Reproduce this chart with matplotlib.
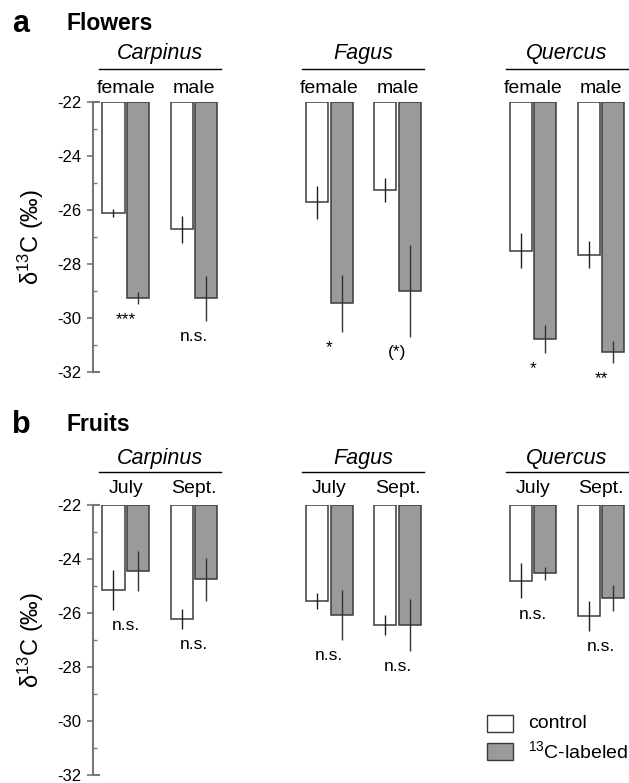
import matplotlib
matplotlib.use('Agg')
import matplotlib.pyplot as plt
import matplotlib.transforms as mtransforms
from matplotlib.patches import Rectangle
import numpy as np

plt.rcParams['font.family'] = ['Liberation Sans', 'DejaVu Sans']
plt.rcParams['mathtext.fontset'] = 'custom'
plt.rcParams['mathtext.rm'] = 'Liberation Sans'
plt.rcParams['mathtext.it'] = 'Liberation Sans:italic'

# data (delta 13C, permil)
genera = ['Carpinus', 'Fagus', 'Quercus']

flower_parts = ['female', 'male']
flower_ctrl = [-26.12, -26.72, -25.72, -25.27, -27.50, -27.65]
flower_ctrl_err = [0.15, 0.50, 0.61, 0.44, 0.66, 0.50]
flower_lab = [-29.27, -29.27, -29.46, -29.00, -30.79, -31.26]
flower_lab_err = [0.22, 0.83, 1.04, 1.71, 0.52, 0.40]
flower_sig = ['***', 'n.s.', '*', '(*)', '*', '**']

fruit_dates = ['July', 'Sept.']
fruit_ctrl = [-25.16, -26.22, -25.55, -26.45, -24.80, -26.12]
fruit_ctrl_err = [0.74, 0.38, 0.30, 0.38, 0.66, 0.55]
fruit_lab = [-24.46, -24.75, -26.08, -26.45, -24.53, -25.44]
fruit_lab_err = [0.74, 0.79, 0.93, 0.97, 0.25, 0.47]
fruit_sig = ['n.s.', 'n.s.', 'n.s.', 'n.s.', 'n.s.', 'n.s.']

TOP = -22
GROUP_GAP = 8.31
PAIR_GAP = 2.78
WIDTH = 0.9
GREY = '#9a9a9a'
EDGE = '#3a3a3a'

W, H = 629, 783
fig = plt.figure(figsize=(W / 100, H / 100), dpi=100)


def panel(rect, sub_names, ctrl, ctrl_err, lab, lab_err, sig, sp_y, line_y, sub_y):
    ax = fig.add_axes(rect)
    n = len(ctrl)
    g = np.arange(n) // 2
    s = np.arange(n) % 2
    x = g * GROUP_GAP + s * PAIR_GAP
    ctrl = np.array(ctrl)
    lab = np.array(lab)

    ax.bar(x, ctrl - TOP, bottom=TOP, width=WIDTH, color='white',
           edgecolor=EDGE, linewidth=1.1)
    ax.bar(x + 1, lab - TOP, bottom=TOP, width=WIDTH, color=GREY,
           edgecolor=EDGE, linewidth=1.1)
    ax.errorbar(x, ctrl, yerr=ctrl_err, fmt='none', ecolor='#222222',
                elinewidth=1.0, capsize=0)
    ax.errorbar(x + 1, lab, yerr=lab_err, fmt='none', ecolor='#333333',
                elinewidth=1.0, capsize=0)

    low = np.minimum(ctrl - np.array(ctrl_err), lab - np.array(lab_err))
    for xi, lo, t in zip(x, low, sig):
        ax.text(xi + 0.5, lo - 0.58, t, ha='center', va='center', fontsize=12.5)

    tr = mtransforms.blended_transform_factory(ax.transData, ax.transAxes)
    for gi, name in enumerate(genera):
        c = gi * GROUP_GAP + (PAIR_GAP + 1) / 2
        ax.text(c, sp_y, name, transform=tr, ha='center', va='baseline',
                fontsize=15.5, style='italic')
        ax.plot([c - 2.49, c + 2.49], [line_y, line_y], transform=tr,
                color='black', lw=1.0, clip_on=False)
        for si, sn in enumerate(sub_names):
            ax.text(gi * GROUP_GAP + si * PAIR_GAP + 0.5, sub_y, sn,
                    transform=tr, ha='center', va='baseline', fontsize=14)

    ax.set_ylim(-32, -22)
    ax.set_xlim(-0.857, -0.857 + 536.5 / 24.5)
    ax.set_yticks(np.arange(-32, -21, 2))
    ax.set_yticks(np.arange(-31, -22, 2), minor=True)
    ax.set_yticklabels([str(v) for v in range(-32, -21, 2)])
    ax.set_xticks([])
    for sp in ['top', 'right', 'bottom']:
        ax.spines[sp].set_visible(False)
    ax.spines['left'].set_color('#777777')
    ax.spines['left'].set_linewidth(1.5)
    ax.tick_params(axis='y', which='major', direction='out', length=4,
                   width=1.2, color='#777777', labelsize=12, pad=4)
    ax.tick_params(axis='y', which='minor', direction='in', length=3,
                   width=1.0, color='#777777')
    for yv in ax.get_ylim():
        ax.axhline(yv, xmin=0, xmax=0.012, color='#777777', lw=1.5,
                   clip_on=False)
    ax.set_ylabel('δ$^{13}$C (‰)', fontsize=17, labelpad=8)
    return ax


ax1 = panel([92.5 / W, 1 - 372 / H, 536.5 / W, 270 / H], flower_parts,
            flower_ctrl, flower_ctrl_err, flower_lab, flower_lab_err,
            flower_sig, 1.158, 1.122, 1.032)
ax2 = panel([92.5 / W, 1 - 775 / H, 536.5 / W, 270 / H], fruit_dates,
            fruit_ctrl, fruit_ctrl_err, fruit_lab, fruit_lab_err,
            fruit_sig, 1.15, 1.124, 1.046)

fig.text(12 / W, 1 - 31.5 / H, 'a', fontsize=22, fontweight='bold', va='baseline')
fig.text(66 / W, 1 - 30 / H, 'Flowers', fontsize=16.5, fontweight='bold', va='baseline')
fig.text(12 / W, 1 - 432.7 / H, 'b', fontsize=22, fontweight='bold', va='baseline')
fig.text(66 / W, 1 - 431 / H, 'Fruits', fontsize=16.5, fontweight='bold', va='baseline')

# legend
for i, (col, lbl) in enumerate([('white', 'control'), (GREY, '$^{13}$C-labeled')]):
    y0 = 715 + i * 28
    fig.add_artist(Rectangle((487 / W, 1 - (y0 + 17) / H), 26 / W, 17 / H,
                             transform=fig.transFigure, facecolor=col,
                             edgecolor=EDGE, lw=1.0))
    fig.text(528 / W, 1 - (y0 + 8.5) / H, lbl, fontsize=14, va='center')

fig.savefig('out.png', dpi=100)
